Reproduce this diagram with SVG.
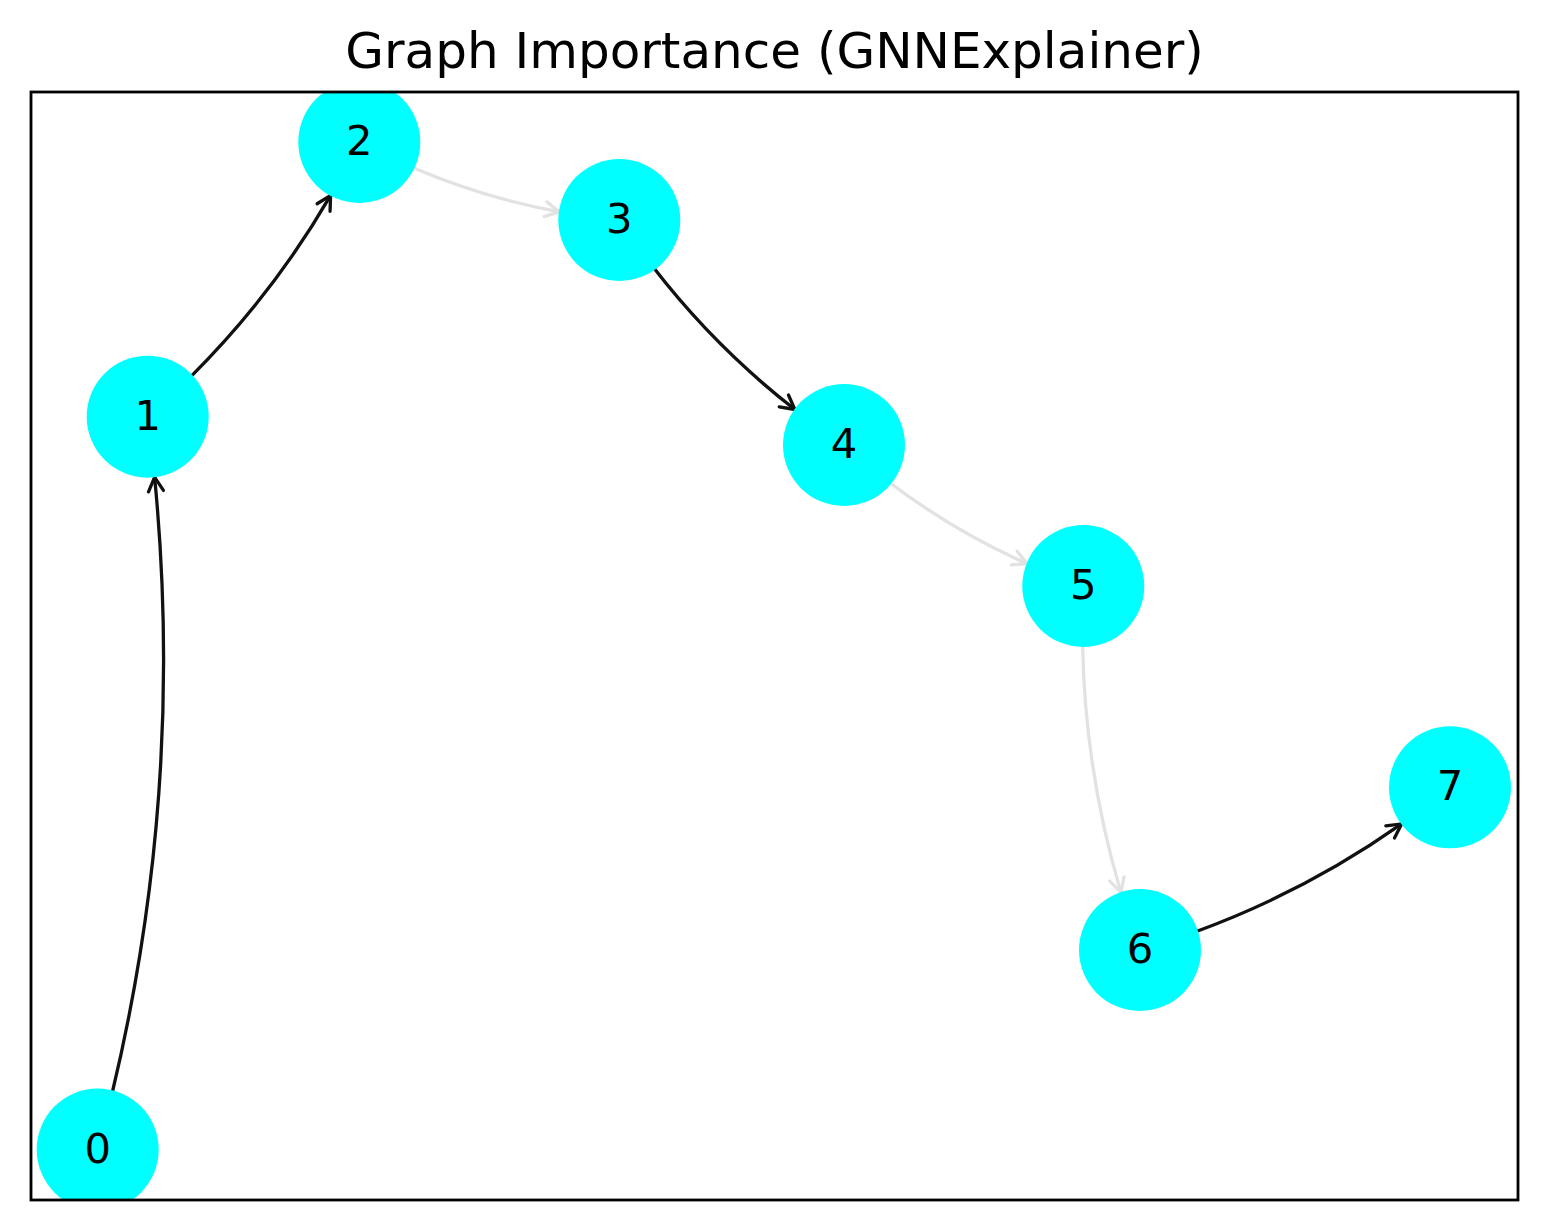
<svg xmlns="http://www.w3.org/2000/svg" width="1548" height="1231" viewBox="0 0 1548 1231">
<style>
.node{fill:#00ffff}
.lbl{font-family:"DejaVu Sans",sans-serif;font-size:41.7px;fill:#000;text-anchor:middle}
.title{font-family:"DejaVu Sans",sans-serif;font-size:50px;fill:#000;text-anchor:middle}
.e{fill:none;stroke-width:3.3;stroke-linecap:round}
.k{stroke:#111111;marker-end:url(#ak)}
.g{stroke:#e2e2e2;marker-end:url(#ag)}
</style>
<defs>
<clipPath id="ax"><rect x="31" y="92" width="1487" height="1108"/></clipPath>
<marker id="ak" markerUnits="userSpaceOnUse" markerWidth="40" markerHeight="40" viewBox="-20 -20 40 40" refX="0" refY="0" orient="auto" overflow="visible">
<path d="M-14,-7.5 L0,0 L-14,7.5" fill="none" stroke="#111111" stroke-width="3.3" stroke-linecap="round" stroke-linejoin="miter"/>
</marker>
<marker id="ag" markerUnits="userSpaceOnUse" markerWidth="40" markerHeight="40" viewBox="-20 -20 40 40" refX="0" refY="0" orient="auto" overflow="visible">
<path d="M-14,-7.5 L0,0 L-14,7.5" fill="none" stroke="#e2e2e2" stroke-width="3.3" stroke-linecap="round" stroke-linejoin="miter"/>
</marker>
</defs>
<rect width="1548" height="1231" fill="#ffffff"/>
<text class="title" x="774.5" y="68">Graph Importance (GNNExplainer)</text>
<g id="edges" clip-path="url(#ax)">
<path class="e k" d="M112.3,1092.5 Q185.1,788.4 154.6,477.2"/>
<path class="e k" d="M190.6,376.8 Q272.6,295.3 330.6,195.4"/>
<path class="e g" d="M412.1,167.3 Q483.2,197.9 559.3,211.8"/>
<path class="e k" d="M653.5,267.6 Q715.2,347.5 794.9,409.5"/>
<path class="e g" d="M889.2,482.3 Q953.4,530.9 1027.0,563.7"/>
<path class="e g" d="M1082.6,644.7 Q1084.9,771.2 1120.9,892.4"/>
<path class="e k" d="M1195.7,931.7 Q1305.9,891.4 1401.6,823.9"/>
</g>
<g clip-path="url(#ax)">
<g id="node0"><circle class="node" cx="97.7" cy="1149.5" r="61"/><text class="lbl" x="97.7" y="1162.5">0</text></g>
<g id="node1"><circle class="node" cx="147.7" cy="416.7" r="61"/><text class="lbl" x="147.7" y="429.7">1</text></g>
<g id="node2"><circle class="node" cx="359.3" cy="142" r="61"/><text class="lbl" x="359.3" y="155">2</text></g>
<g id="node3"><circle class="node" cx="619.3" cy="220" r="61"/><text class="lbl" x="619.3" y="233">3</text></g>
<g id="node4"><circle class="node" cx="844" cy="445" r="61"/><text class="lbl" x="844" y="458">4</text></g>
<g id="node5"><circle class="node" cx="1083.3" cy="586" r="61"/><text class="lbl" x="1083.3" y="599">5</text></g>
<g id="node6"><circle class="node" cx="1140" cy="950" r="61"/><text class="lbl" x="1140" y="963">6</text></g>
<g id="node7"><circle class="node" cx="1450" cy="787.3" r="61"/><text class="lbl" x="1450" y="800.3">7</text></g>
</g>
<rect x="31" y="92" width="1487" height="1108" fill="none" stroke="#000" stroke-width="2.8"/>
</svg>
